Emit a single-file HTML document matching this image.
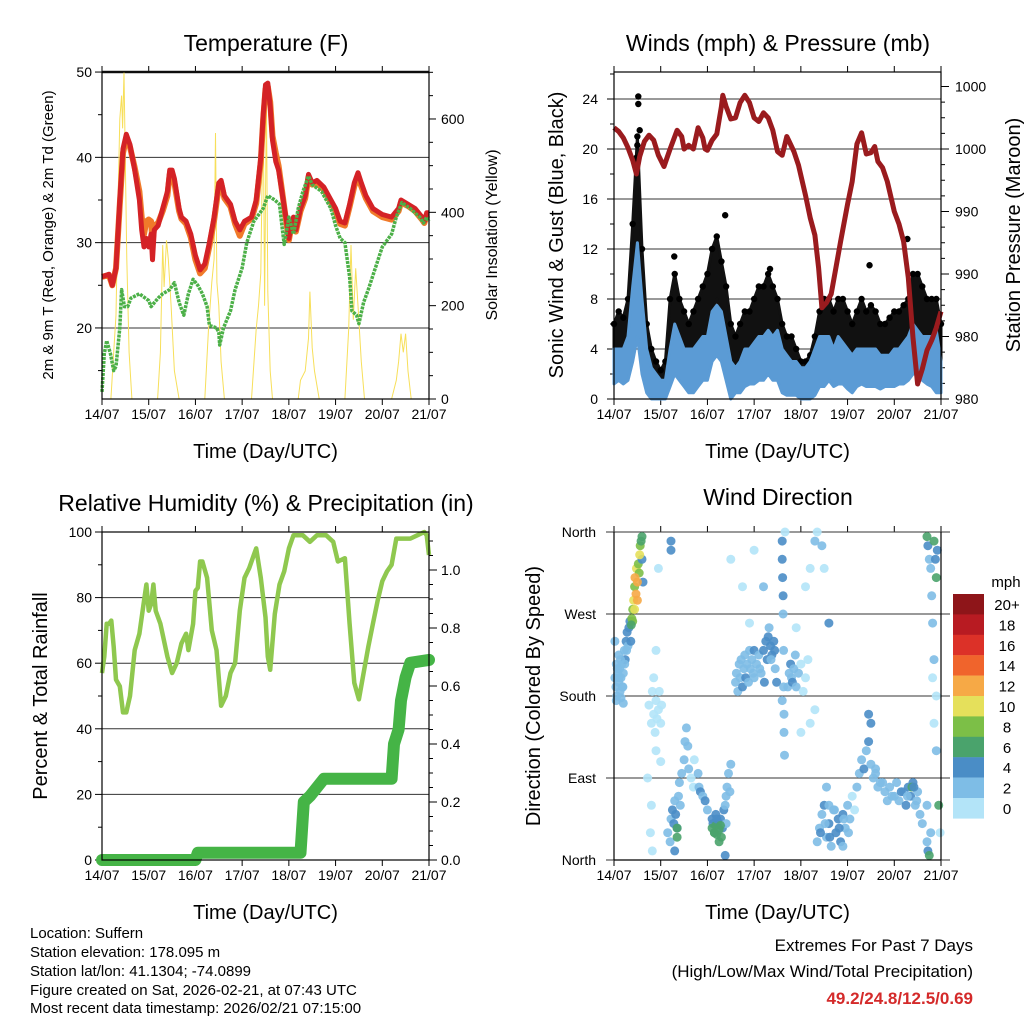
<!DOCTYPE html>
<html><head><meta charset="utf-8"><style>
html,body{margin:0;padding:0;background:#fff}
svg{display:block;font-family:"Liberation Sans",sans-serif}
</style></head><body>
<svg id="s" width="1024" height="1024" viewBox="0 0 1024 1024" xmlns="http://www.w3.org/2000/svg">
<g id="pT"></g>
<g id="pW"></g>
<g id="pR"></g>
<g id="pD"></g>
<g font-size="15" fill="#000">
<text x="30" y="938">Location: Suffern</text>
<text x="30" y="957">Station elevation: 178.095 m</text>
<text x="30" y="976">Station lat/lon: 41.1304; -74.0899</text>
<text x="30" y="995">Figure created on Sat, 2026-02-21, at 07:43 UTC</text>
<text x="30" y="1013">Most recent data timestamp: 2026/02/21 07:15:00</text>
<text x="973" y="951" text-anchor="end" font-size="17">Extremes For Past 7 Days</text>
<text x="973" y="977" text-anchor="end" font-size="17">(High/Low/Max Wind/Total Precipitation)</text>
<text x="973" y="1004" text-anchor="end" font-size="17" font-weight="bold" fill="#d42a2a">49.2/24.8/12.5/0.69</text>
</g>
</svg>
<script>
// ---------- data ----------
const dayLabels=["14/07","15/07","16/07","17/07","18/07","19/07","20/07","21/07"];
const tDays=[0,0.15,0.22,0.3,0.38,0.45,0.52,0.6,0.7,0.8,0.85,0.9,0.95,1.0,1.05,1.08,1.12,1.2,1.3,1.4,1.45,1.5,1.55,1.65,1.7,1.8,1.9,2.0,2.1,2.2,2.3,2.4,2.5,2.55,2.62,2.75,2.85,2.95,3.05,3.2,3.3,3.4,3.45,3.5,3.55,3.6,3.65,3.72,3.78,3.85,3.95,4.0,4.05,4.1,4.15,4.25,4.35,4.42,4.5,4.6,4.75,4.9,5.0,5.1,5.2,5.3,5.4,5.48,5.55,5.65,5.8,6.0,6.2,6.35,6.4,6.55,6.7,6.85,6.9,6.95,7.0];
const tRed=[26,26.3,25,27,35,41,42.7,41.5,38.5,35,31.5,29.5,30.5,29.5,31,28,31.5,32,34,36,38.5,38.5,37.5,34,33,32.5,31,28.5,26.8,27.5,30,33,37,37.3,35.5,34.5,32.5,31.5,32.5,33,35,40,45,48.5,48.7,46,42,39.5,38.5,36,32.5,30.5,32,33,31.5,34,35.5,38,37,37.3,36.5,35,34,32.5,32.3,34.5,37,38.2,37,35.5,34,33.3,33,34,35,34.5,34,33,32.5,33.5,33.5];
const tOrange=[26,26.2,25,27,34.5,40.5,42.3,41.2,38.8,36,33,31,32.5,32.7,32.5,30,32,32.3,33.7,35.5,38,38,37,33.7,32.8,32.2,30.6,28,26.4,27,29.6,32.6,36.6,37,35.2,34.2,32.2,30.8,32.2,32.8,34.6,39.5,44.5,48,48.3,46.5,42.5,40.5,39,36.2,32.2,30.3,31.8,32.7,31.3,33.7,35.2,37.7,36.8,37,36.2,34.7,33.7,32.2,32,34.2,36.6,37.8,36.6,35.2,33.7,33,32.7,33.7,34.7,34.3,33.7,32.7,32.3,33.2,33.3];
const tdDays=[0,0.05,0.1,0.18,0.25,0.3,0.38,0.42,0.48,0.55,0.62,0.8,1.0,1.05,1.2,1.3,1.45,1.55,1.65,1.75,1.85,1.95,2.05,2.15,2.25,2.3,2.45,2.5,2.52,2.6,2.75,2.85,3.0,3.1,3.25,3.45,3.55,3.7,3.8,3.85,3.9,4.0,4.1,4.2,4.3,4.42,4.5,4.7,4.9,5.0,5.1,5.2,5.3,5.35,5.45,5.5,5.6,5.7,5.85,6.0,6.2,6.3,6.42,6.6,6.8,6.88,6.95,7.0];
const tDew=[12.5,17,18.5,17,15,15.5,20,24.5,22.5,22.5,23.5,24,23.2,22.5,23.5,24,24.5,25.3,23,21.5,24,25.7,25,24,22.5,20.3,20,19.5,18,20,22,24.5,27,30,32.5,34,35.5,35,34.5,32,29.8,33,31,34,36,37.8,36.8,36,34,32,30.5,30,26,22,21.5,20.5,23,24.5,27,29.5,31,33,34.7,34,33,32.3,33,32.5];
const solDays=[0,0.19,0.25,0.3,0.35,0.38,0.42,0.44,0.47,0.5,0.53,0.58,0.64,1.19,1.25,1.3,1.33,1.38,1.42,1.48,1.55,1.65,2.2,2.28,2.35,2.4,2.43,2.46,2.5,2.55,2.62,3.2,3.3,3.35,3.4,3.45,3.48,3.52,3.55,3.6,3.65,4.2,4.25,4.35,4.42,4.45,4.5,4.55,4.65,5.2,5.28,5.33,5.38,5.43,5.48,5.55,5.62,6.2,6.3,6.35,6.4,6.45,6.5,6.55,6.62,7];
const solVals=[0,0,100,180,450,600,650,580,700,500,300,100,0,0,100,330,240,340,300,200,60,0,0,150,250,300,570,250,200,80,0,0,150,200,270,640,200,650,230,60,0,0,40,60,130,230,110,60,0,0,150,330,170,280,200,80,0,0,40,80,140,100,140,60,0,0];

const wDays=[0,0.1,0.2,0.3,0.4,0.5,0.6,0.7,0.8,0.9,1.0,1.1,1.2,1.3,1.4,1.5,1.6,1.7,1.8,1.9,2.0,2.1,2.2,2.3,2.4,2.5,2.6,2.7,2.8,2.9,3.0,3.1,3.2,3.3,3.4,3.5,3.6,3.7,3.8,3.9,4.0,4.1,4.2,4.3,4.4,4.5,4.6,4.7,4.8,4.9,5.0,5.1,5.2,5.3,5.4,5.5,5.6,5.7,5.8,5.9,6.0,6.1,6.2,6.3,6.4,6.5,6.6,6.7,6.8,6.9,7.0];
const gustHi=[6,7,6.5,8,14,21,12,6,4,3,2.3,3,8,10,8,7,6,7,8,9,10,12,13,11,9,6,5,6,7,7,8,9,9,10,9,8,6,5,5,4,3,3,3.5,5,7,8,8,7,8,8,7,6,7,8,7,7.5,7,6,6,6.5,7,7,7.5,8,10,10,9,8,8,8,6];
const gustLo=[2.5,3,3,4,8,12,5,2,1.5,1,0.5,0.5,3,5,4,3,2,2.5,3,4,5,7,8,7,4,2,1.5,2,3,3.5,3.5,4,4.5,5,4.5,4,2,1.5,2,1.5,1,1,1.5,2,3,3.5,4,3.5,4,4,3,2.5,3,3.5,3,3,3,2.5,3,3,3,3.5,3.5,4,5,5,4,3.5,3,3,2];
const windHi=[4,4,4,5,9,12.5,8,4,2.5,2,1.5,1.5,4,6,5,4,4,4,4.5,5,5,7,7.5,7,5,3,2.5,3,4,4,4.5,5,5,5.5,5,5.5,4,3.5,3,3,2.5,2.5,3,4,5,5,5,4,5,4.5,4,3.5,4,4,4,4,4,3.5,3.5,3.5,4,4,4.5,5,6,5.5,5,5,5,5.5,3];
const windLo=[1.2,1.5,1.2,1.5,3,5,2,0.5,0,0,0,0,1,2,1.5,1,0.5,0.5,1,1.5,1.5,3,3.5,3,1.5,0,0.5,0.5,1,1.2,1.2,1.5,1.5,2,1.5,1.5,0.5,0.3,0.3,0.3,0,0,0,0.3,1,1,1.5,1,1.2,1.2,0.8,0.5,1,1.2,1,1,1,0.8,1,1,1,1.2,1.2,1.5,2,2,1.5,1.2,1,0.5,0.5];
const gustOutDays=[0.52,0.52,0.55,2.38,6.28,5.47,1.29,3.34,0.5,0.48];
const gustOutVals=[24.2,23.6,21.5,14.7,12.8,10.7,11.4,10.4,20.3,19.3];
const presDays=[0,0.1,0.2,0.3,0.4,0.48,0.55,0.65,0.75,0.85,0.95,1.07,1.2,1.35,1.45,1.5,1.6,1.7,1.8,1.9,1.95,2.0,2.1,2.2,2.3,2.33,2.4,2.5,2.6,2.7,2.8,2.9,3.0,3.1,3.2,3.3,3.4,3.5,3.6,3.7,3.75,3.85,3.95,4.1,4.2,4.3,4.38,4.45,4.55,4.65,4.75,4.85,5.0,5.1,5.2,5.3,5.4,5.5,5.58,5.65,5.75,5.85,6.0,6.1,6.2,6.3,6.4,6.5,6.6,6.7,6.8,6.9,7.0];
const presVals=[999.2,998.9,998.4,997.6,996.6,995.5,996.9,998.1,998.6,998.2,997,996.1,997.5,999,998.5,997.5,997.8,997.5,999.2,998.4,997.5,997.4,998.2,998.7,1000.9,1001.8,1000.9,999.9,1000,1001.2,1001.8,1001.2,1000,999.7,1000.4,1000,999,997.3,997,998.5,998.1,997.3,996.2,993.8,992,990.6,988,984.8,985.2,985.9,988,990.1,993.1,994.9,997.9,998.8,997.1,997.2,997.7,996.5,996,994.9,992.5,991.5,990.1,987.2,982.4,978.7,979.9,981.4,982.2,983.2,984.5];
const presTickVals=[977.5,982.5,987.5,992.5,997.5,1002.5];
const presTickLabels=["980","980","990","990","1000","1000"];

const rhDays=[0,0.05,0.1,0.15,0.2,0.25,0.3,0.38,0.45,0.52,0.6,0.7,0.8,0.9,0.95,1.0,1.05,1.1,1.15,1.25,1.4,1.5,1.6,1.7,1.8,1.85,1.95,2.0,2.05,2.1,2.15,2.25,2.35,2.45,2.55,2.65,2.75,2.85,2.95,3.05,3.15,3.25,3.3,3.4,3.5,3.55,3.6,3.7,3.8,3.9,4.0,4.1,4.3,4.45,4.6,4.8,4.95,5.05,5.2,5.3,5.4,5.5,5.6,5.7,5.8,5.9,6.0,6.1,6.2,6.3,6.45,6.6,6.75,6.9,6.95,7.0];
const rhVals=[57,62,72,72,73,65,55,53,45,45,50,64,69,79,84,76,78,84,76,72,62,57,60,66,69,64,72,82,83,91,91,86,70,64,47,50,57,60,76,86,89,93,95,86,74,62,58,75,84,88,95,99,99,97,99,99,97,91,92,72,54,49,57,65,72,79,85,88,90,98,98,98,99,100,99,93];
const prDays=[0,2.0,2.05,4.25,4.32,4.45,4.6,4.75,6.2,6.25,6.35,6.4,6.5,6.6,7.0];
const prVals=[0,0,0.025,0.025,0.2,0.22,0.25,0.28,0.28,0.4,0.45,0.55,0.63,0.68,0.69];

const dirDays=[0.02,0.04,0.05,0.06,0.08,0.1,0.1,0.12,0.13,0.15,0.17,0.18,0.2,0.22,0.24,0.26,0.28,0.3,0.02,0.05,0.15,0.2,0.32,0.34,0.36,
0.75,0.8,0.82,0.85,0.88,0.9,0.92,0.95,0.97,1.0,1.02,0.9,0.72,0.8,0.78,0.85,0.9,0.95,1.0,0.82,
1.15,1.2,1.22,1.25,1.28,1.3,1.32,1.35,1.38,1.4,1.42,1.45,1.5,1.52,1.55,1.58,1.6,1.65,1.7,1.72,1.8,1.82,1.85,1.9,1.95,2.0,1.3,1.22,1.22,1.35,
2.12,2.22,2.28,2.1,2.18,2.32,2.35,2.38,2.4,2.42,2.45,2.48,2.5,2.4,2.38,
2.6,2.62,2.65,2.68,2.7,2.72,2.75,2.78,2.8,2.82,2.85,2.88,2.9,2.92,2.95,2.98,3.0,3.05,3.1,3.15,3.2,3.25,3.28,3.3,3.32,3.35,3.38,3.42,3.45,3.48,2.9,2.75,3.0,2.5,3.2,
3.6,3.6,3.61,3.62,3.62,3.63,3.63,3.64,3.64,3.65,3.6,3.66,
3.72,3.75,3.78,3.8,3.82,3.85,3.88,3.9,3.95,4.0,4.05,4.1,4.15,3.9,4.1,4.2,4.3,4.35,4.45,4.5,4.6,4.0,4.2,4.3,
4.35,4.4,4.45,4.5,4.55,4.6,4.65,4.7,4.75,4.8,4.85,4.9,4.95,5.0,5.05,5.1,5.15,4.55,4.6,4.9,5.2,5.25,5.3,5.35,5.4,5.45,5.5,5.55,5.6,5.65,5.7,5.8,5.85,5.9,6.0,6.05,6.1,6.2,6.25,6.3,6.35,6.4,6.45,6.5,6.55,6.6,5.45,5.5,
6.72,6.75,6.78,6.8,6.82,6.88,6.92,6.85,6.82,6.85,6.9,6.7,6.72,6.78,6.7,6.98,6.9,
2.1,2.15,2.18,2.2,2.25,2.3,2.25,6.38,1.35,6.7,6.85,6.9,6.75,6.95,
0.38,0.4,0.44,0.48,0.52,0.54,0.56,0.6,0.4,0.37,0.62,0.58,0.6,
0.42,0.45,0.47,0.5,0.5,0.55,0.44,
0.07,0.11,0.14,0.19,0.23,0.27,4.42,4.52,4.62,4.72,4.82,4.92,5.02,5.6,5.75,5.95,6.15,6.28,6.42,6.48,3.0,3.12,3.22,3.36,3.44,2.15,2.2,2.28];
const dirDeg=[200,190,215,180,205,195,225,210,185,200,215,190,205,230,220,240,250,235,240,175,178,172,255,262,240,
170,150,185,160,140,175,155,165,185,150,170,120,90,60,30,200,230,320,108,10,
30,20,45,55,40,65,50,35,70,85,60,95,110,130,145,125,100,90,80,110,95,80,75,70,65,55,10,350,340,25,
40,42,45,45,50,35,55,60,70,80,95,75,105,40,5,
195,205,185,215,200,220,190,210,225,200,215,195,230,210,220,205,230,215,225,205,230,240,220,245,255,235,225,240,210,195,260,300,340,330,300,
350,330,310,290,270,230,190,160,140,115,175,360,
190,205,215,200,195,210,225,190,205,215,185,200,220,255,300,320,350,360,345,320,260,140,150,165,
20,35,50,60,25,40,15,55,30,45,20,50,35,60,45,70,55,80,60,15,80,95,110,100,120,130,105,90,95,80,85,75,65,80,70,85,65,75,60,80,70,85,60,75,50,40,160,150,
345,330,320,290,260,330,340,220,200,150,120,20,10,30,60,30,180,
35,30,38,28,33,25,20,80,35,355,350,310,5,60,
265,275,300,320,325,315,345,330,262,258,305,350,355,
285,310,292,305,285,335,275,
210,200,220,190,215,230,30,40,25,55,35,45,30,100,85,70,75,70,80,65,200,210,195,220,230,30,45,38];
const dirSpd=[3,2,3,2,2,3,2,3,2,2,3,2,3,3,4,4,4,3,3,2,2,2,4,4,4,
1,1,0,0,0,0,1,0,1,0,0,0,0,1,1,0,1,0,1,0,
2,3,2,4,4,3,4,4,2,3,2,2,2,2,2,3,2,1,1,1,3,3,4,3,4,2,4,4,4,6,
4,4,4,4,4,4,4,2,2,2,2,2,2,2,4,
2,3,2,2,3,2,4,2,2,4,2,2,2,2,3,2,4,2,3,2,4,4,4,4,3,4,4,4,3,4,1,0,1,1,2,
4,4,4,4,3,2,3,2,2,3,2,1,
3,2,4,3,4,2,2,2,2,1,1,1,1,1,1,1,2,1,2,1,4,1,1,1,
2,3,2,4,2,4,2,2,4,4,4,4,2,2,2,1,1,2,2,2,2,3,2,4,2,4,2,2,3,2,2,3,3,2,2,3,2,3,4,4,4,4,2,2,2,2,4,4,
4,2,2,2,2,4,4,2,1,1,2,2,4,2,2,1,1,
6,6,6,6,6,6,6,6,6,6,6,6,6,6,
8,8,8,10,8,8,8,4,8,6,4,6,6,
10,12,12,12,12,10,10,
2,3,2,3,2,3,4,2,4,2,4,3,2,3,2,3,4,2,4,3,2,3,4,2,4,6,4,6];
const spdLabels=["0","2","4","6","8","10","12","14","16","18","20+"];
const spdColors=["#b3e4f8","#7ebde6","#4a8dc6","#4aa36c","#7cbf47","#e5e05b","#f6a946","#f0642c","#dc3128","#b81b22","#8e1519"];

// ---------- drawing helpers ----------
const NS="http://www.w3.org/2000/svg";
function mk(parent,tag,attrs,name,inter){const e=document.createElementNS(NS,tag);for(const k in attrs)e.setAttribute(k,attrs[k]);


parent.appendChild(e);return e;}
function txt(parent,x,y,s,size,anchor,name,extra){const t=mk(parent,'text',Object.assign({x:x,y:y,'font-size':size,'text-anchor':anchor||'start',fill:'#000'},extra||{}),name,false);t.textContent=s;return t;}
function pts(days,vals,fx,fy){return days.map((d,i)=>fx(d).toFixed(1)+','+fy(vals[i]).toFixed(1)).join(' ');}

function frame(g,x0,x1,y0,y1,xlabY){
  const xs=d=>x0+(x1-x0)*d/7;
  for(let i=0;i<=7;i++){
    const x=xs(i);
    mk(g,'line',{x1:x,y1:y0,x2:x,y2:y0-6,stroke:'#000','stroke-width':1},'x-tick-top',false);
    mk(g,'line',{x1:x,y1:y1,x2:x,y2:y1+6,stroke:'#000','stroke-width':1},'x-tick',false);
    txt(g,x,xlabY,dayLabels[i],14,'middle','x-tick-label');
  }
  txt(g,(x0+x1)/2,xlabY+39,'Time (Day/UTC)',20,'middle','x-axis-title');
  return xs;
}
function box(g,x0,x1,y0,y1){mk(g,'rect',{x:x0,y:y0,width:x1-x0,height:y1-y0,fill:'none',stroke:'#000','stroke-width':1.2},'plot-frame',false);}
function grid(g,x0,x1,y,w,c){mk(g,'line',{x1:x0,y1:y,x2:x1,y2:y,stroke:c||'#333','stroke-width':w||1},'gridline',false);}

// ---------- temperature ----------
(function(){
  const g=document.getElementById('pT');
  const x0=102,x1=429,y0=72,y1=399;
  const yT=v=>399-(v-11.67)*8.53, yS=w=>399-w*0.4667;
  txt(g,266,51,'Temperature (F)',23,'middle','chart-title');
  const xs=frame(g,x0,x1,y0,y1,419);
  [20,30,40].forEach(v=>grid(g,x0,x1,yT(v)));
  grid(g,x0,x1,yT(50),2.5,'#222');
  [15,20,25,30,35,40,45,50].forEach(v=>mk(g,'line',{x1:x0,y1:yT(v),x2:x0-(v%10?4:7),y2:yT(v),stroke:'#000'},'y-tick',false));
  [20,30,40,50].forEach(v=>txt(g,92,yT(v)+5,String(v),14,'end','y-tick-label'));
  for(let w=0;w<=700;w+=50) mk(g,'line',{x1:x1,y1:yS(w),x2:x1+(w%200?4:7),y2:yS(w),stroke:'#000'},'y2-tick',false);
  [0,200,400,600].forEach(w=>txt(g,441,yS(w)+5,String(w),14,'start','y2-tick-label'));
  txt(g,0,0,'2m & 9m T (Red, Orange) & 2m Td (Green)',15,'middle','y-axis-title',{transform:'translate(53,235) rotate(-90)'});
  txt(g,0,0,'Solar Insolation (Yellow)',16,'middle','y2-axis-title',{transform:'translate(497,235) rotate(-90)'});
  mk(g,'polyline',{points:pts(solDays,solVals,xs,yS),fill:'none',stroke:'#f7df5a','stroke-width':1},'solar-line',false);
  mk(g,'polyline',{points:pts(tDays,tOrange,xs,yT),fill:'none',stroke:'#f07a2a','stroke-width':6,'stroke-linejoin':'round'},'temp-9m-line',false);
  mk(g,'polyline',{points:pts(tDays,tRed,xs,yT),fill:'none',stroke:'#d42226','stroke-width':5,'stroke-linejoin':'round'},'temp-2m-line',false);
  mk(g,'polyline',{points:pts(tdDays,tDew,xs,yT),fill:'none',stroke:'#4cb048','stroke-width':3.5,'stroke-dasharray':'3 1','stroke-linejoin':'round'},'dewpoint-line',false);
  box(g,x0,x1,y0,y1);
})();

// ---------- winds ----------
(function(){
  const g=document.getElementById('pW');
  const x0=614,x1=941,y0=72,y1=399;
  const yW=v=>399-v*12.5, yP=p=>399-(p-977.5)*12.5;
  txt(g,778,51,'Winds (mph) & Pressure (mb)',23,'middle','chart-title');
  const xs=frame(g,x0,x1,y0,y1,419);
  [4,8,12,16,20,24].forEach(v=>grid(g,x0,x1,yW(v)));
  for(let v=0;v<=26;v+=2) mk(g,'line',{x1:x0,y1:yW(v),x2:x0-(v%4?4:7),y2:yW(v),stroke:'#000'},'y-tick',false);
  [0,4,8,12,16,20,24].forEach(v=>txt(g,598,yW(v)+5,String(v),14,'end','y-tick-label'));
  for(let p=977.5;p<=1003.5;p+=1.25) mk(g,'line',{x1:x1,y1:yP(p),x2:x1+4,y2:yP(p),stroke:'#000'},'y2-minor-tick',false);
  presTickVals.forEach((p,i)=>{mk(g,'line',{x1:x1,y1:yP(p),x2:x1+8,y2:yP(p),stroke:'#000'},'y2-tick',false);txt(g,955,yP(p)+5,presTickLabels[i],14,'start','y2-tick-label');});
  txt(g,0,0,'Sonic Wind & Gust (Blue, Black)',20,'middle','y-axis-title',{transform:'translate(563,235) rotate(-90)'});
  txt(g,0,0,'Station Pressure (Maroon)',20,'middle','y2-axis-title',{transform:'translate(1020,235) rotate(-90)'});
  const band=(hi,lo)=>wDays.map((d,i)=>xs(d).toFixed(1)+','+yW(hi[i]).toFixed(1)).join(' ')+' '+wDays.slice().reverse().map((d,j)=>{const i=wDays.length-1-j;return xs(d).toFixed(1)+','+yW(lo[i]).toFixed(1);}).join(' ');
  mk(g,'polygon',{points:band(gustHi,gustLo),fill:'#111',stroke:'#111','stroke-width':3,'stroke-linejoin':'round'},'gust-cloud',false);
  const gg=mk(g,'g',{},'gust-points',false);
  wDays.forEach((d,i)=>{mk(gg,'circle',{cx:xs(d),cy:yW(gustHi[i]),r:3.2,fill:'#000'},'gust-point',false);});
  gustOutDays.forEach((d,i)=>{mk(gg,'circle',{cx:xs(d),cy:yW(gustOutVals[i]),r:3.2,fill:'#000'},'gust-point',false);});
  mk(g,'polygon',{points:band(windHi,windLo),fill:'#5b9bd5',stroke:'#5b9bd5','stroke-width':3,'stroke-linejoin':'round'},'wind-band',false);
  mk(g,'polyline',{points:pts(presDays,presVals,xs,yP),fill:'none',stroke:'#9a1b1e','stroke-width':5,'stroke-linejoin':'round'},'pressure-line',false);
  box(g,x0,x1,y0,y1);
})();

// ---------- humidity ----------
(function(){
  const g=document.getElementById('pR');
  const x0=102,x1=429,y0=532,y1=860;
  const yR=v=>860-v*3.28, yI=v=>860-v*290;
  txt(g,266,511,'Relative Humidity (%) & Precipitation (in)',23,'middle','chart-title');
  const xs=frame(g,x0,x1,y0,y1,880);
  [20,40,60,80,100].forEach(v=>grid(g,x0,x1,yR(v)));
  for(let v=0;v<=100;v+=10) mk(g,'line',{x1:x0,y1:yR(v),x2:x0-(v%20?4:7),y2:yR(v),stroke:'#000'},'y-tick',false);
  [0,20,40,60,80,100].forEach(v=>txt(g,92,yR(v)+5,String(v),14,'end','y-tick-label'));
  for(let k=0;k<=22;k++){const v=k*0.05;mk(g,'line',{x1:x1,y1:yI(v),x2:x1+(k%4?4:8),y2:yI(v),stroke:'#000'},'y2-tick',false);}
  [0,0.2,0.4,0.6,0.8,1.0].forEach(v=>txt(g,441,yI(v)+5,v.toFixed(1),14,'start','y2-tick-label'));
  txt(g,0,0,'Percent & Total Rainfall',20,'middle','y-axis-title',{transform:'translate(47,696) rotate(-90)'});
  mk(g,'polyline',{points:pts(prDays,prVals,xs,yI),fill:'none',stroke:'#45b446','stroke-width':12,'stroke-linejoin':'round','stroke-linecap':'round'},'precip-line',false);
  mk(g,'polyline',{points:pts(rhDays,rhVals,xs,yR),fill:'none',stroke:'#8fc84f','stroke-width':4.5,'stroke-linejoin':'round'},'humidity-line',false);
  box(g,x0,x1,y0,y1);
})();

// ---------- wind direction ----------
(function(){
  const g=document.getElementById('pD');
  const x0=614,x1=941,y0=532,y1=860;
  const yD=v=>860-v*0.9111;
  txt(g,778,505,'Wind Direction',23,'middle','chart-title');
  const xs=frame(g,x0,x1,y0,y1,880);
  const dn=["North","East","South","West","North"];
  [0,90,180,270,360].forEach((v,i)=>{grid(g,606,950,yD(v));txt(g,596,yD(v)+5,dn[i],14,'end','y-tick-label');});
  txt(g,0,0,'Direction (Colored By Speed)',20,'middle','y-axis-title',{transform:'translate(540,696) rotate(-90)'});
  const pg=mk(g,'g',{'fill-opacity':0.9},'direction-points',false);
  dirDays.forEach((d,i)=>{const b=Math.max(0,Math.min(10,Math.floor(dirSpd[i]/2)));
    mk(pg,'circle',{cx:xs(d).toFixed(1),cy:yD(dirDeg[i]).toFixed(1),r:4.5,fill:spdColors[b]},'direction-point',false);});
  mk(g,'line',{x1:x0,y1:y0,x2:x0,y2:y1,stroke:'#000','stroke-width':1.2},'y-axis-line',false);
  mk(g,'line',{x1:x1,y1:y0,x2:x1,y2:y1,stroke:'#000','stroke-width':1.2},'y2-axis-line',false);
  mk(g,'line',{x1:x0,y1:y1,x2:x1,y2:y1,stroke:'#000','stroke-width':1.2},'x-axis-line',false);
  const lg=mk(g,'g',{},'speed-legend',false);
  txt(lg,1006,587,'mph',15,'middle','legend-title');
  for(let i=0;i<11;i++){const k=10-i, y=594+i*20.4;
    mk(lg,'rect',{x:953,y:y,width:31,height:20.6,fill:spdColors[k]},'legend-swatch',false);
    txt(lg,1007,y+16,spdLabels[k],15,'middle','legend-label');}
})();
</script>
</body></html>
